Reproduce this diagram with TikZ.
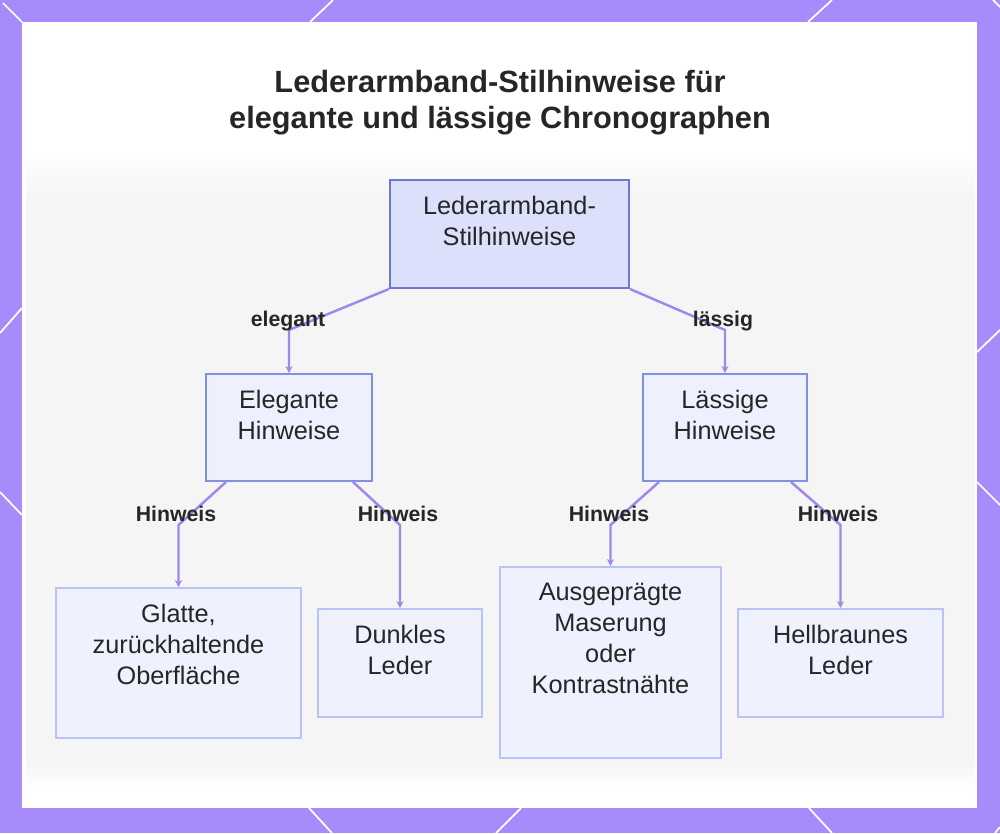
\documentclass[tikz,border=0pt]{standalone}
\usepackage{fontspec}
\setmainfont{Liberation Sans}
\usetikzlibrary{arrows.meta}

\definecolor{frame}{HTML}{A78BFA}
\definecolor{ink}{HTML}{262626}
\definecolor{rootfill}{HTML}{DDE0FB}
\definecolor{rootline}{HTML}{6E78D2}
\definecolor{midfill}{HTML}{EEF0FD}
\definecolor{midline}{HTML}{8091E1}
\definecolor{leaffill}{HTML}{EFF1FE}
\definecolor{leafline}{HTML}{B9C3F5}
\definecolor{linkcol}{HTML}{A087EB}

\begin{document}
\begin{tikzpicture}[x=0.02cm, y=-0.02cm,
  rootbox/.style={draw=rootline, fill=rootfill, line width=1.1pt, inner sep=0pt},
  midbox/.style={draw=midline, fill=midfill, line width=1.1pt, inner sep=0pt},
  leafbox/.style={draw=leafline, fill=leaffill, line width=1.1pt, inner sep=0pt},
  boxtext/.style={anchor=north, align=center, inner ysep=9.5pt, text=ink,
    font=\fontsize{14.4}{17.6}\selectfont},
  tag/.style={text=ink, inner sep=1pt, font=\fontsize{12.1}{14}\selectfont\bfseries},
  link/.style={draw=linkcol, line width=1.4pt, -{Stealth[length=4pt,width=4pt]}}]
\useasboundingbox (0,0) rectangle (1000,833);
% frame with the thin white strokes
\fill[frame] (0,0) rectangle (1000,833);
\foreach \a/\b/\c/\d in {3/3/22/22, 333/0/310/22, 832/0/808/22, 993/0/1000/7,
  0/333/22/308, 0/492/22/515, 977/352/1000/330, 977/482/1000/505,
  309/808/332/833, 521/808/496/833, 809/808/832/833, 995/833/1000/827}
  \draw[white, line width=1pt] (\a,\b) -- (\c,\d);
\fill[white] (22,22) rectangle (977,808);
% faded photo behind the tree
\shade[top color=white, bottom color=black!4] (26,150) rectangle (975,200);
\fill[black!4] (26,200) rectangle (975,760);
\shade[top color=black!4, bottom color=white] (26,760) rectangle (975,790);

% title
\node[text=ink, align=center, font=\fontsize{17.5}{20.4}\selectfont\bfseries] (title) at (500,103)
  {Lederarmband-Stilhinweise für\\elegante und lässige Chronographen};

% boxes
\node[rootbox, minimum width=4.78cm, minimum height=2.16cm,
  label={[boxtext, name=rootT]north:{Lederarmband-\\Stilhinweise}}] (root) at (509.5,234) {};
\node[midbox, minimum width=3.32cm, minimum height=2.14cm,
  label={[boxtext, name=eleT]north:{Elegante\\Hinweise}}] (ele) at (289,427.5) {};
\node[midbox, minimum width=3.28cm, minimum height=2.14cm,
  label={[boxtext, name=lasT]north:{Lässige\\Hinweise}}] (las) at (725,427.5) {};
\node[leafbox, minimum width=4.9cm, minimum height=3cm,
  label={[boxtext, name=glaT]north:{Glatte,\\zurückhaltende\\Oberfläche}}] (gla) at (178.5,663) {};
\node[leafbox, minimum width=3.28cm, minimum height=2.16cm,
  label={[boxtext, name=dunT]north:{Dunkles\\Leder}}] (dun) at (400,663) {};
\node[leafbox, minimum width=4.42cm, minimum height=3.82cm,
  label={[boxtext, name=ausT]north:{Ausgeprägte\\Maserung\\oder\\Kontrastnähte}}] (aus) at (610.5,662.5) {};
\node[leafbox, minimum width=4.1cm, minimum height=2.16cm,
  label={[boxtext, name=helT]north:{Hellbraunes\\Leder}}] (hel) at (840.5,663) {};

% connectors: slant down, then straight into the box
\coordinate (kEle) at (289,330);
\coordinate (kLas) at (725,330);
\coordinate (kGla) at (178.5,525);
\coordinate (kDun) at (400,525);
\coordinate (kAus) at (610.5,525);
\coordinate (kHel) at (840.5,525);
\draw[link] (root.south west) -- (kEle) -- (ele.north);
\draw[link] (root.south east) -- (kLas) -- (las.north);
\draw[link] ([xshift=0.42cm]ele.south west) -- (kGla) -- (gla.north);
\draw[link] ([xshift=-0.4cm]ele.south east) -- (kDun) -- (dun.north);
\draw[link] ([xshift=0.34cm]las.south west) -- (kAus) -- (aus.north);
\draw[link] ([xshift=-0.34cm]las.south east) -- (kHel) -- (hel.north);

% connector labels
\node[tag] (tEle) at (288,321) {elegant};
\node[tag] (tLas) at (723,321) {lässig};
\node[tag] (tGla) at (176,514) {Hinweis};
\node[tag] (tDun) at (398,514) {Hinweis};
\node[tag] (tAus) at (609,514) {Hinweis};
\node[tag] (tHel) at (838,514) {Hinweis};
\end{tikzpicture}
\end{document}
